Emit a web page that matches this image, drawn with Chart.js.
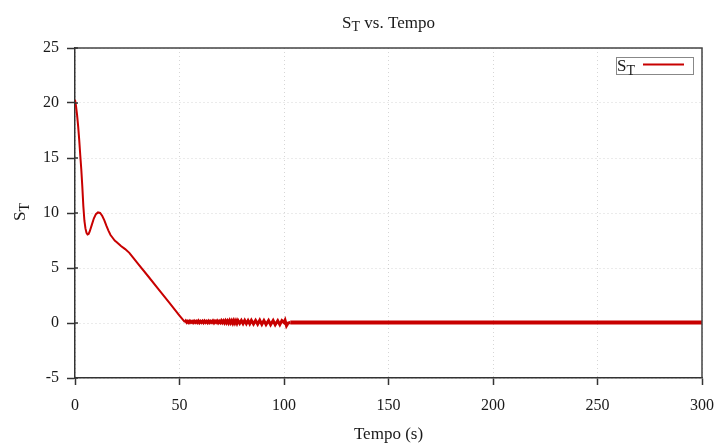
<!DOCTYPE html>
<html><head><meta charset="utf-8">
<script src="https://cdn.jsdelivr.net/npm/chart.js@4/dist/chart.umd.min.js"></script>
<style>html,body{margin:0;padding:0;background:#fff}#wrap{width:718px;height:444px}</style>
</head><body><div id="wrap"><canvas id="c" width="718" height="444"></canvas></div>
<script>
// ---- data ----
const tempoDecay = [0,0.5,1,1.5,2,2.5,3,3.5,4,4.5,5,5.5,6,6.5,7,8,9,10,11,12,
  13,14,15,16,17,18,19,20,22,24,26,28,30,35,40,45,50,52.6];
const sTDecay = [20.3,19.7,18.9,17.9,16.7,15.3,14.0,12.4,10.6,9.3,8.6,8.2,8.05,8.1,8.3,8.9,9.5,9.9,10.05,10.0,
  9.75,9.35,8.85,8.4,8.0,7.75,7.5,7.35,7.0,6.72,6.38,5.9,5.43,4.25,3.06,1.87,0.68,0.08];

const tempoOsc = [53,53.5,54,54.5,55,55.5,56,56.5,57,57.5,
  58,58.5,59,59.5,60,60.5,61,61.5,62,62.5,
  63,63.5,64,64.5,65,65.5,66,66.5,67,67.5,
  68,68.5,69,69.5,70,70.5,71,71.5,72,72.5,
  73,73.5,74,74.5,75,75.5,76,76.5,77,77.5,
  78,78.8,79.6,80.4,81.2,82,82.8,83.6,84.4,85.4,
  86.4,87.4,88.4,89.4,90.4,91.4,92.6,93.6,94.8,95.8,
  97,98,99,100,100.5,101.2,102];
const sTOsc = [0.18,0.05,0.16,0.04,0.17,0.06,0.15,0.04,0.17,0.05,
  0.16,0.04,0.18,0.03,0.15,0.05,0.17,0.04,0.18,0.06,
  0.16,0.03,0.17,0.04,0.15,0.05,0.18,0.03,0.17,0.06,
  0.19,0.03,0.16,0.04,0.2,0.03,0.18,0.01,0.2,0.02,
  0.19,0.0,0.21,0.01,0.2,-0.01,0.22,0.0,0.21,-0.02,
  0.22,-0.03,0.22,-0.05,0.23,-0.06,0.22,-0.07,0.24,-0.09,
  0.23,-0.1,0.25,-0.12,0.22,-0.13,0.23,-0.15,0.22,-0.16,
  0.2,-0.15,0.22,0.05,0.25,-0.25,0.0];

const tempoFlat = [103,150,200,250,300];
const sTFlat = [0.05,0.05,0.05,0.05,0.05];

const xTicks = [0,50,100,150,200,250,300];
const yTicks = [-5,0,5,10,15,20,25];
const seriesName = ['S','T'];
const titleRest = ' vs. Tempo';
const xTitle = 'Tempo (s)';

// ---- build points ----
const tempo = tempoDecay.concat(tempoOsc, tempoFlat);
const sT = sTDecay.concat(sTOsc, sTFlat);
const pts = tempo.map((t,i)=>({x:t, y:sT[i]}));

const RED = '#c80000';
const FONT = '"Liberation Serif", "DejaVu Serif", serif';

function drawSub(ctx, main, sub, rest, x, y, fs, ss, off, align){
  ctx.textBaseline='alphabetic'; ctx.textAlign='left'; ctx.fillStyle='#1a1a1a';
  const f1 = fs+'px '+FONT, f2 = ss+'px '+FONT;
  ctx.font=f1; const w1=ctx.measureText(main).width; const w3=ctx.measureText(rest).width;
  ctx.font=f2; const w2=ctx.measureText(sub).width;
  const total=w1+w2+w3;
  const x0 = align==='center' ? x-total/2 : x;
  ctx.font=f1; ctx.fillText(main,x0,y);
  ctx.font=f2; ctx.fillText(sub,x0+w1,y+off);
  ctx.font=f1; if(rest) ctx.fillText(rest,x0+w1+w2,y);
}

const deco = {
  id:'deco',
  afterDraw(chart){
    const ctx=chart.ctx, a=chart.chartArea;
    ctx.save();
    // top & right border
    ctx.strokeStyle='#444'; ctx.lineWidth=1.5; ctx.setLineDash([]);
    ctx.beginPath(); ctx.moveTo(a.left,a.top); ctx.lineTo(a.right,a.top); ctx.lineTo(a.right,a.bottom); ctx.stroke();
    // inward y ticks
    const ys=chart.scales.y;
    ctx.strokeStyle='#333'; ctx.lineWidth=1.5;
    yTicks.forEach(v=>{const y=ys.getPixelForValue(v); ctx.beginPath(); ctx.moveTo(a.left,y); ctx.lineTo(a.left+3,y); ctx.stroke();});
    // title
    drawSub(ctx, seriesName[0], seriesName[1], titleRest, (a.left+a.right)/2, 28, 17, 14, 3, 'center');
    // x title
    ctx.font='17px '+FONT; ctx.textAlign='center'; ctx.textBaseline='alphabetic'; ctx.fillStyle='#1a1a1a';
    ctx.fillText(xTitle,(a.left+a.right)/2,439);
    // y title
    ctx.save(); ctx.translate(25,212); ctx.rotate(-Math.PI/2);
    drawSub(ctx, seriesName[0], seriesName[1], '', 0, 0, 17, 14, 4, 'center');
    ctx.restore();
    // legend
    ctx.strokeStyle='#888'; ctx.lineWidth=1;
    ctx.strokeRect(616.5,57.5,77,17);
    drawSub(ctx, seriesName[0], seriesName[1], '', 617, 71, 17, 14, 4, 'left');
    ctx.strokeStyle=RED; ctx.lineWidth=1.8;
    ctx.beginPath(); ctx.moveTo(643,64.5); ctx.lineTo(684,64.5); ctx.stroke();
    ctx.restore();
  }
};

Chart.defaults.font.family = FONT;
Chart.defaults.font.size = 16;
Chart.defaults.color = '#1a1a1a';

new Chart(document.getElementById('c'), {
  type:'line',
  data:{datasets:[{
    label: seriesName.join(''),
    data: pts,
    borderColor: RED,
    borderWidth: 2,
    pointRadius: 0,
    tension: 0,
    segment:{ borderWidth: c => c.p0.parsed.x >= 102.5 ? 4 : (c.p0.parsed.x >= 52.6 ? 3 : 2) }
  }]},
  options:{
    responsive:false, animation:false, devicePixelRatio:1,
    layout:{padding:{left:0,right:16,top:48,bottom:0}},
    plugins:{legend:{display:false}, title:{display:false}, tooltip:{enabled:false}},
    scales:{
      x:{type:'linear', min:0, max:300,
        afterBuildTicks: s=>{ s.ticks = xTicks.map(v=>({value:v})); },
        afterFit: s=>{ s.height = 66; s.paddingLeft = 0; s.paddingRight = 0; },
        ticks:{padding:11, font:{size:16}, maxRotation:0, autoSkip:false},
        grid:{color:'rgba(0,0,0,0.16)', lineWidth:1, tickColor:'#333', tickLength:7, tickWidth:1.5, tickBorderDash:[]},
        border:{display:true, color:'#333', width:1.5, dash:[1,3]}
      },
      y:{type:'linear', min:-5, max:25,
        afterBuildTicks: s=>{ s.ticks = yTicks.map(v=>({value:v})); },
        afterFit: s=>{ s.width = 75; s.paddingTop = 0; s.paddingBottom = 0; },
        ticks:{padding:8, font:{size:16}, autoSkip:false},
        grid:{color:'rgba(0,0,0,0.16)', lineWidth:1, tickColor:'#333', tickLength:8, tickWidth:1.5, tickBorderDash:[]},
        border:{display:true, color:'#333', width:1.5, dash:[1,3]}
      }
    }
  },
  plugins:[deco]
});
</script></body></html>
